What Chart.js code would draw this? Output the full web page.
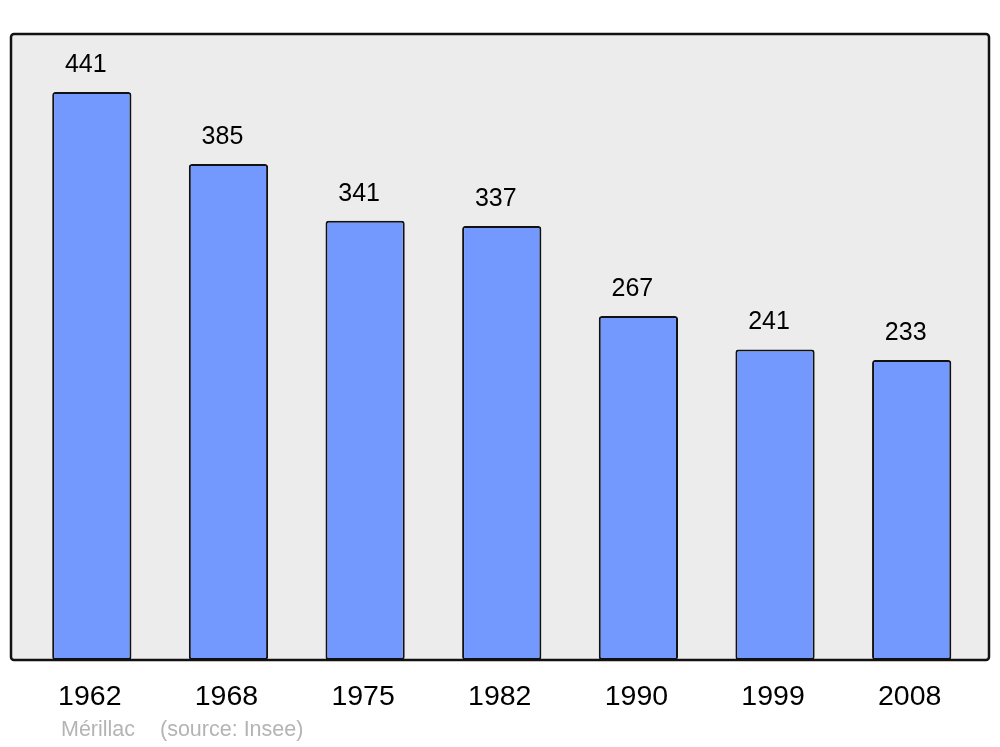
<!DOCTYPE html>
<html>
<head>
<meta charset="utf-8">
<script src="https://cdn.jsdelivr.net/npm/chart.js@4"></script>
<style>
  html, body { margin: 0; padding: 0; background: #fff; }
  #wrap { width: 1000px; height: 747px; }
</style>
</head>
<body>
<div id="wrap"><canvas id="popChart"></canvas></div>
<script>
// population data
const years = ["1962", "1968", "1975", "1982", "1990", "1999", "2008"];
const population = [441, 385, 341, 337, 267, 241, 233];
const townName = "Mérillac";
const sourceText = "(source: Insee)";

// grey frame behind the bars, value labels on top, footer text
const framePlugin = {
  id: "frame",
  beforeDraw(chart) {
    const { ctx, chartArea } = chart;
    const x0 = chartArea.left - 12.5, x1 = chartArea.right + 9;
    const y0 = chartArea.top, y1 = chartArea.bottom;
    ctx.save();
    ctx.beginPath();
    ctx.roundRect(x0, y0, x1 - x0, y1 - y0, 3);
    ctx.fillStyle = "#ececec";
    ctx.fill();
    ctx.restore();
  },
  afterDatasetsDraw(chart) {
    const { ctx, chartArea } = chart;
    const x0 = chartArea.left - 12.5, x1 = chartArea.right + 9;
    const y0 = chartArea.top, y1 = chartArea.bottom;
    ctx.save();
    ctx.beginPath();
    ctx.roundRect(x0, y0, x1 - x0, y1 - y0, 3);
    ctx.lineWidth = 2.5;
    ctx.strokeStyle = "#111";
    ctx.stroke();

    // values above bars
    const meta = chart.getDatasetMeta(0);
    ctx.fillStyle = "#000";
    ctx.font = "25px 'Liberation Sans', Arial, sans-serif";
    ctx.textAlign = "center";
    ctx.textBaseline = "middle";
    meta.data.forEach((bar, i) => {
      ctx.fillText(String(population[i]), bar.x - 6, bar.y - 27);
    });

    // footer
    ctx.fillStyle = "#b4b4b4";
    ctx.font = "21.5px 'Liberation Sans', Arial, sans-serif";
    ctx.textAlign = "left";
    ctx.fillText(townName, 61, 730);
    ctx.fillText(sourceText, 160, 730);
    ctx.restore();
  }
};

new Chart(document.getElementById("popChart"), {
  type: "bar",
  data: {
    labels: years,
    datasets: [{
      data: population,
      backgroundColor: "#7399ff",
      borderColor: "#111",
      borderWidth: 2,
      borderRadius: 3,
      borderSkipped: false,
      barPercentage: 0.58,
      categoryPercentage: 1
    }]
  },
  options: {
    responsive: true,
    maintainAspectRatio: false,
    animation: false,
    events: [],
    layout: { padding: { left: 23.5, right: 20, top: 34, bottom: 0 } },
    plugins: {
      legend: { display: false },
      tooltip: { enabled: false }
    },
    scales: {
      x: {
        grid: { display: false, drawTicks: false },
        border: { display: false },
        ticks: {
          color: "#000",
          padding: 20,
          labelOffset: -2,
          font: { family: "'Liberation Sans', Arial, sans-serif", size: 28.5 }
        },
        afterFit(scale) { scale.height = 87; }
      },
      y: {
        display: false,
        min: 0,
        max: 486
      }
    }
  },
  plugins: [framePlugin]
});
</script>
</body>
</html>
